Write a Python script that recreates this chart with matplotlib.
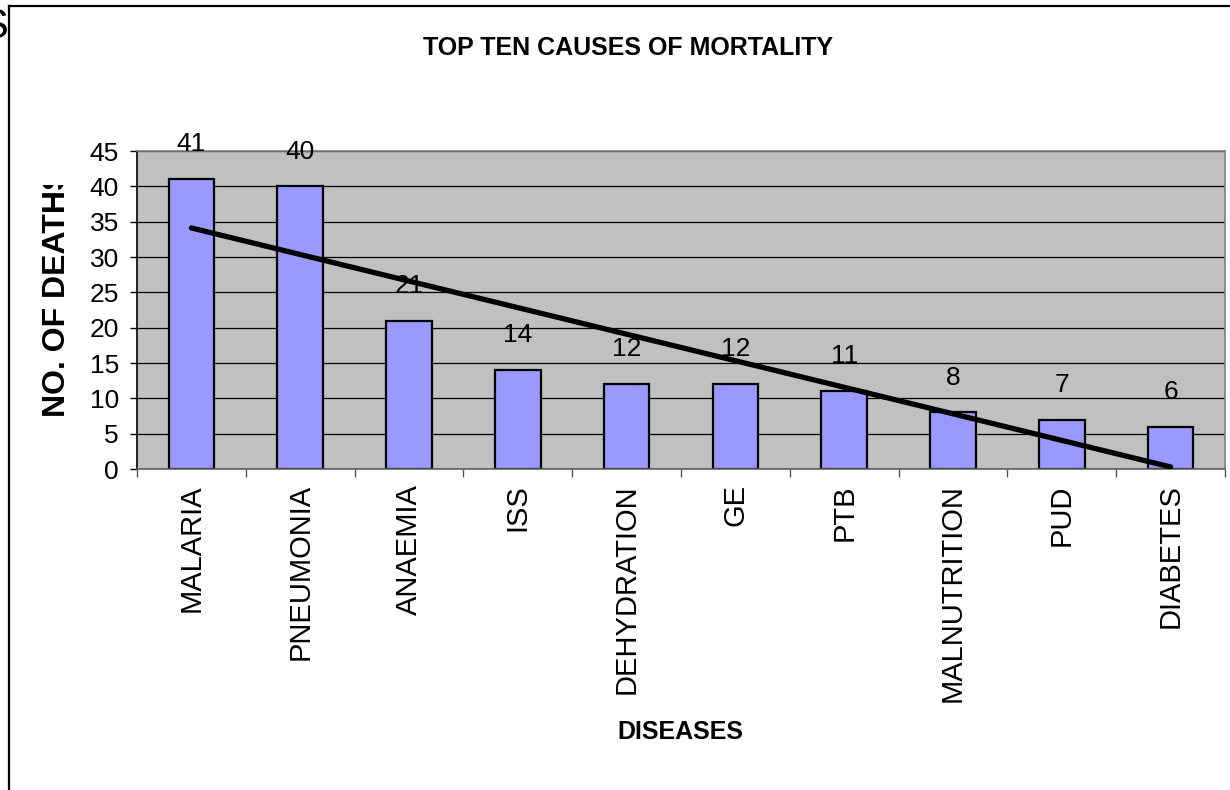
import matplotlib
matplotlib.use("Agg")
import matplotlib.pyplot as plt
import numpy as np
from matplotlib.lines import Line2D
from matplotlib.transforms import Bbox

plt.rcParams["font.family"] = ["Liberation Sans", "DejaVu Sans"]

# data
diseases = ["MALARIA", "PNEUMONIA", "ANAEMIA", "ISS", "DEHYDRATION",
            "GE", "PTB", "MALNUTRITION", "PUD", "DIABETES"]
deaths = [41, 40, 21, 14, 12, 12, 11, 8, 7, 6]
y_ticks = [0, 5, 10, 15, 20, 25, 30, 35, 40, 45]

W, H = 1230, 790
fig = plt.figure(figsize=(W / 100, H / 100), dpi=100)
fig.patch.set_facecolor("white")

ax = fig.add_axes([137 / W, 1 - 469 / H, (1225 - 137) / W, (469 - 151) / H])
ax.set_facecolor("#C0C0C0")

x = np.arange(len(diseases))
ax.bar(x, deaths, width=0.42, color="#9999FF", edgecolor="black", linewidth=1.6, zorder=2)

# linear trend line (Excel style)
slope, icpt = np.polyfit(x + 1, deaths, 1)
xs = np.array([x[0], x[-1]])
ax.plot(xs, slope * (xs + 1) + icpt, color="black", linewidth=3.8,
        solid_capstyle="round", zorder=3)

for xi, v in zip(x, deaths):
    ax.annotate(str(v), (xi, v), xytext=(0, 20), textcoords="offset points",
                ha="center", va="baseline", fontsize=19, annotation_clip=False)

ax.set_xlim(-0.5, len(diseases) - 0.5)
ax.set_ylim(0, 45)
ax.set_yticks(y_ticks)
ax.tick_params(axis="y", labelsize=19, length=5, width=1, color="black", pad=8)
ax.yaxis.grid(True, color="black", linewidth=0.9)
ax.set_axisbelow(True)

# boundary ticks without labels, category labels on minor ticks
ax.set_xticks(np.arange(-0.5, len(diseases), 1.0))
ax.set_xticklabels([])
ax.tick_params(axis="x", which="major", length=6, width=1, color="#555555")
ax.set_xticks(x, minor=True)
ax.set_xticklabels(diseases, minor=True, rotation=90, fontsize=21)
ax.tick_params(axis="x", which="minor", length=0, pad=11)

for s in ["top", "right", "bottom"]:
    ax.spines[s].set_color("#808080")
    ax.spines[s].set_linewidth(1.2)
ax.spines["bottom"].set_color("#606060")
ax.spines["left"].set_color("black")
ax.spines["left"].set_linewidth(1.2)

fig.text(628 / W, 1 - 48 / H, "TOP TEN CAUSES OF MORTALITY", ha="center", va="center",
         fontsize=18, fontweight="bold")
fig.text(680 / W, 1 - 732 / H, "DISEASES", ha="center", va="center",
         fontsize=18, fontweight="bold")

# y label, clipped at the top like the original
yl = fig.text(57 / W, 1 - 417 / H, "NO. OF DEATHS", rotation=90, ha="center", va="bottom",
              fontsize=23, fontweight="bold")
yl.set_clip_box(Bbox.from_extents(0, 0, W, H - 185))
yl.set_clip_on(True)

# stray cut-off letter at top left
fig.text(8 / W, 1 - 27 / H, "S", ha="right", va="center", fontsize=30)

# chart frame (left and top edges only visible)
fig.add_artist(Line2D([9 / W, 9 / W], [0, 1 - 6 / H], color="black", linewidth=1.6,
                      transform=fig.transFigure))
fig.add_artist(Line2D([9 / W, 1], [1 - 6 / H, 1 - 6 / H], color="black", linewidth=1.6,
                      transform=fig.transFigure))

fig.savefig("out.png", dpi=100)
